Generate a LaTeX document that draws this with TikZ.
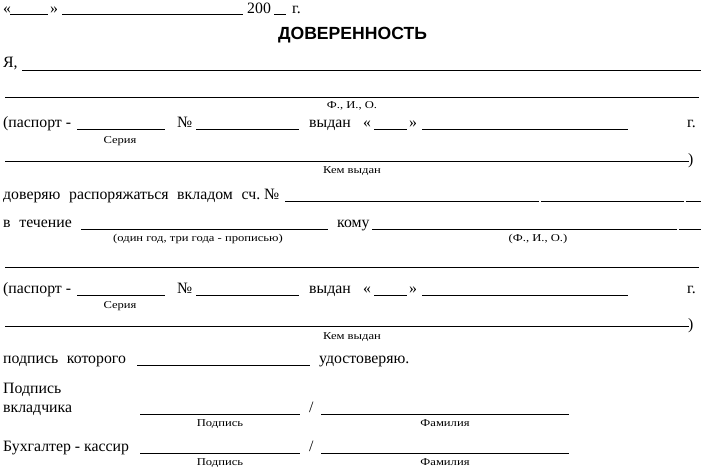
\documentclass[tikz,border=0pt]{standalone}
\usepackage{fontspec}
\setmainfont{Liberation Serif}
\newfontfamily\labfont[FakeStretch=1.2]{Liberation Serif}
\newfontfamily\titlefont{Liberation Sans}
\newcommand{\wgap}{\hspace{.55em}}
\begin{document}
\begin{tikzpicture}[x=1pt,y=-1pt,
  txt/.style={anchor=base west,inner sep=0pt,font=\fontsize{15.8}{18}\selectfont},
  lab/.style={anchor=base,inner sep=0pt,font=\labfont\fontsize{10.5}{12}\selectfont},
  ul/.style={line width=1pt}]
\useasboundingbox (0,0) rectangle (706,471);
% row 1
\node[txt] (q1) at (3,13) {«};
\draw[ul] (10,14.5) -- (48,14.5);
\node[txt] (q2) at (50,13) {»};
\draw[ul] (62,14.5) -- (243,14.5);
\node[txt] (yr) at (247,13) {200};
\draw[ul] (274,14.5) -- (286,14.5);
\node[txt] (g0) at (292,13) {г.};
% title
\node[font=\titlefont\bfseries\fontsize{17.6}{20}\selectfont,inner sep=0pt] (title) at (352.5,35) {ДОВЕРЕННОСТЬ};
% Ya
\node[txt] (ya) at (3,67.5) {Я,};
\draw[ul] (22,70.5) -- (701,70.5);
\draw[ul] (5,97.5) -- (699,97.5);
\node[lab] (fio1) at (352,108.5) {Ф., И., О.};
% passport 1
\node[txt] (p1) at (3,127.5) {(паспорт -};
\draw[ul] (77,129.5) -- (165,129.5);
\node[txt] (n1) at (177,127.5) {№};
\draw[ul] (196,129.5) -- (299,129.5);
\node[txt] (v1) at (309,127.5) {выдан};
\node[txt] (qa1) at (363,127.5) {«};
\draw[ul] (374,129.5) -- (407,129.5);
\node[txt] (qb1) at (409,127.5) {»};
\draw[ul] (422,129.5) -- (628,129.5);
\node[txt] (gg1) at (687,127.5) {г.};
\node[lab] (ser1) at (120,143) {Серия};
\draw[ul] (5,161.5) -- (689,161.5);
\node[txt] (br1) at (688,164) {)};
\node[lab] (kem1) at (352,173.5) {Кем выдан};
% account
\node[txt] (dov) at (3,199.5) {доверяю\wgap распоряжаться\wgap вкладом\wgap сч.~№};
\draw[ul] (285,201.5) -- (539,201.5) (541,201.5) -- (684,201.5) (686,201.5) -- (701,201.5);
% term
\node[txt] (vt) at (3,227) {в\wgap течение};
\draw[ul] (81,229.5) -- (328,229.5);
\node[txt] (komu) at (337,227) {кому};
\draw[ul] (372,229.5) -- (677,229.5) (679,229.5) -- (701,229.5);
\node[lab] (odin) at (198,241) {(один\hspace{.3em}год, три\hspace{.3em}года - прописью)};
\node[lab] (fio2) at (538,241) {(Ф., И., О.)};
\draw[ul] (5,267.5) -- (699,267.5);
% passport 2
\node[txt] (p2) at (3,293) {(паспорт -};
\draw[ul] (77,295.5) -- (165,295.5);
\node[txt] (n2) at (177,293) {№};
\draw[ul] (196,295.5) -- (299,295.5);
\node[txt] (v2) at (309,293) {выдан};
\node[txt] (qa2) at (363,293) {«};
\draw[ul] (374,295.5) -- (407,295.5);
\node[txt] (qb2) at (409,293) {»};
\draw[ul] (422,295.5) -- (628,295.5);
\node[txt] (gg2) at (687,293) {г.};
\node[lab] (ser2) at (120,308.5) {Серия};
\draw[ul] (5,326.5) -- (689,326.5);
\node[txt] (br2) at (688,329) {)};
\node[lab] (kem2) at (352,339.5) {Кем выдан};
% certify
\node[txt] (podk) at (3,363) {подпись\wgap которого};
\draw[ul] (137,365.5) -- (310,365.5);
\node[txt] (udost) at (319,363) {удостоверяю.};
% depositor signature
\node[txt] (pv1) at (3,393) {Подпись};
\node[txt] (pv2) at (3,412) {вкладчика};
\draw[ul] (140,414.5) -- (300,414.5);
\node[txt] (sl1) at (309,412) {/};
\draw[ul] (321,414.5) -- (569,414.5);
\node[lab] (ps1) at (220,426) {Подпись};
\node[lab] (fam1) at (445,426) {Фамилия};
% cashier
\node[txt] (bk) at (3,451) {Бухгалтер - кассир};
\draw[ul] (140,453.5) -- (300,453.5);
\node[txt] (sl2) at (309,451) {/};
\draw[ul] (321,453.5) -- (569,453.5);
\node[lab] (ps2) at (220,465) {Подпись};
\node[lab] (fam2) at (445,465) {Фамилия};
\end{tikzpicture}
\end{document}
